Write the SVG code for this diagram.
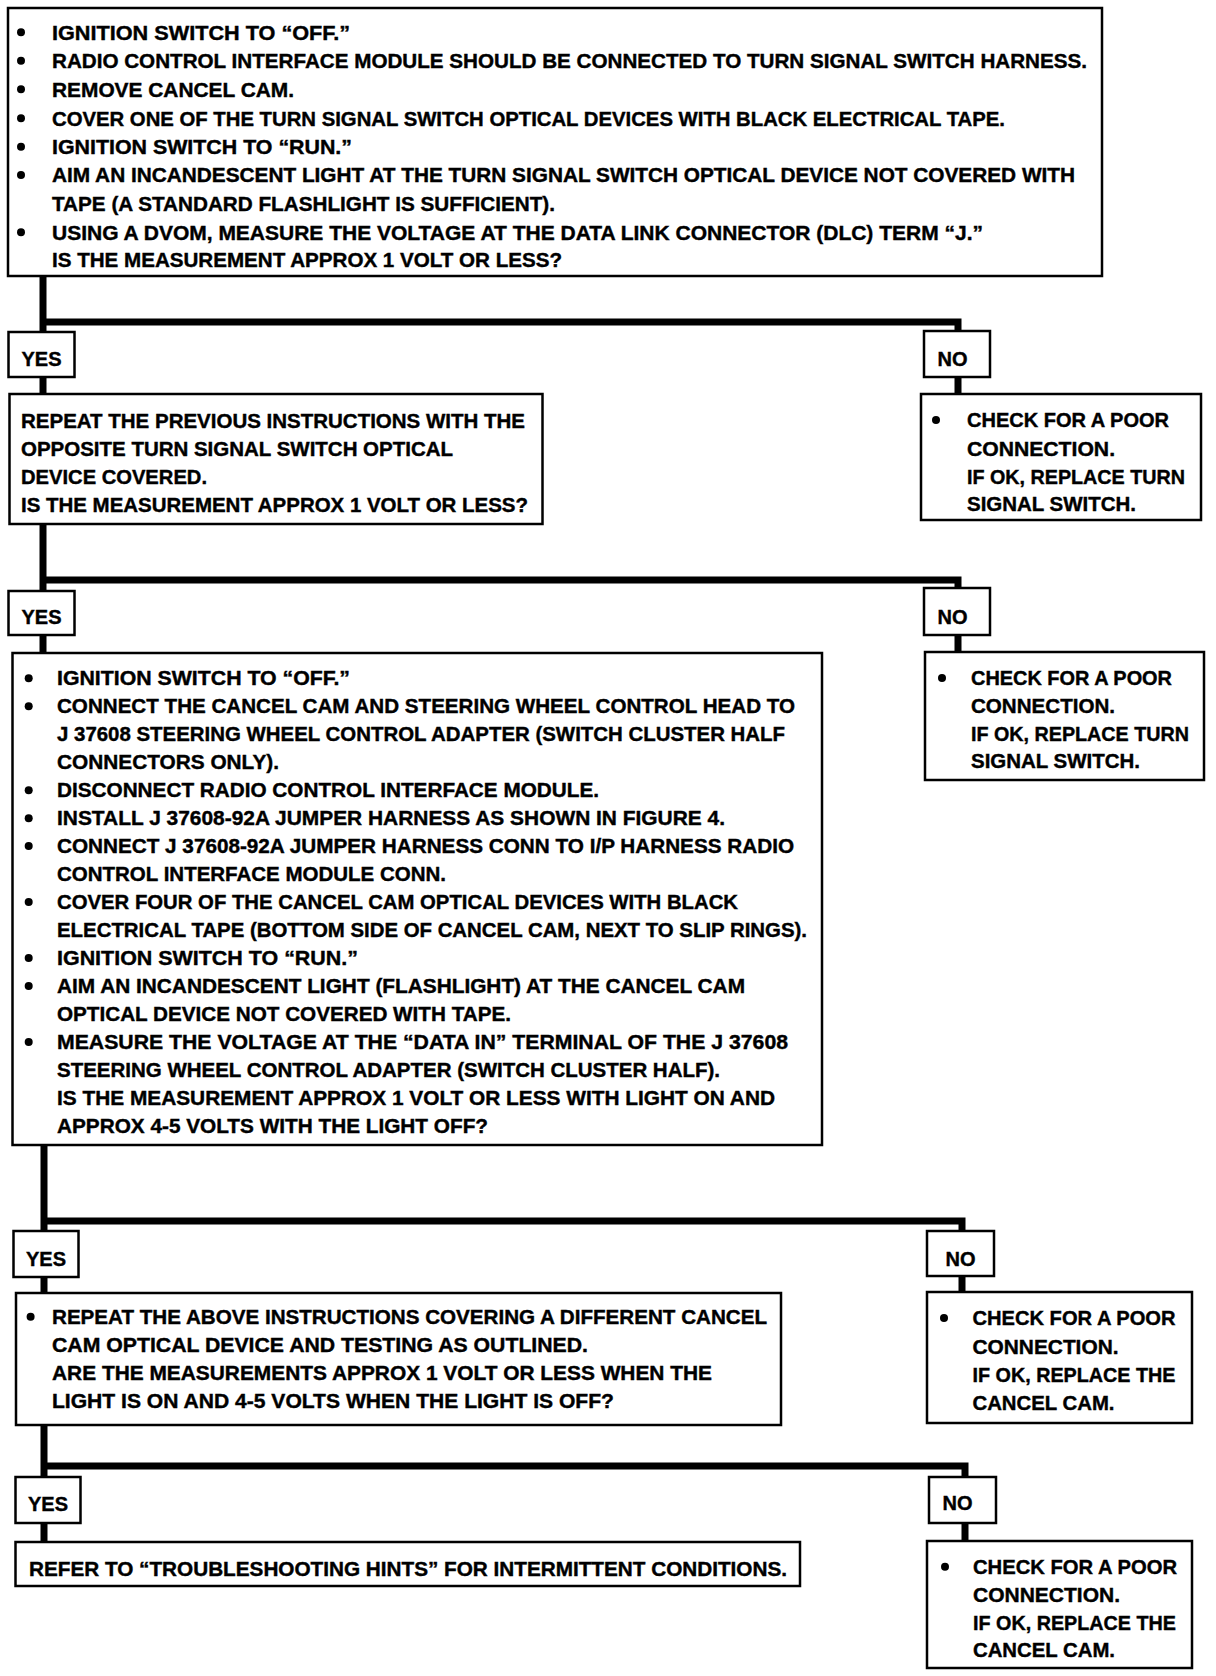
<svg xmlns="http://www.w3.org/2000/svg" width="1216" height="1676" viewBox="0 0 1216 1676">
<style>
.box{fill:#fff;stroke:#000;stroke-width:2.5}
.t{font-family:"Liberation Sans",Arial,sans-serif;font-weight:bold;font-size:20px;fill:#000;stroke:#000;stroke-width:0.4}
.c{text-anchor:middle}
.conn{fill:none;stroke:#000;stroke-width:7;stroke-linejoin:miter;stroke-linecap:butt}
.b{fill:#000}
</style>
<rect x="0" y="0" width="1216" height="1676" fill="#fff"/>
<g id="connectors" class="conn">
<path d="M43 276V332M43 322H958V331M43 377V394M958 377V394"/>
<path d="M43 524V591M43 580H958V588M43 635V653M958 635V652"/>
<path d="M44 1145V1231M44 1221H962V1231M44 1277V1293M962 1276V1292"/>
<path d="M44 1425V1477M44 1466H965V1477M44 1523V1542M965 1523V1541"/>
</g>
<g id="n1">
<rect class="box" x="8" y="8" width="1094" height="268"/>
<circle class="b" cx="21" cy="32.3" r="4"/><circle class="b" cx="21" cy="60.8" r="4"/><circle class="b" cx="21" cy="89.3" r="4"/><circle class="b" cx="21" cy="118.3" r="4"/><circle class="b" cx="21" cy="146.8" r="4"/><circle class="b" cx="21" cy="175" r="4"/><circle class="b" cx="21" cy="232.3" r="4"/>
<text class="t" x="52" y="39.5" textLength="298" lengthAdjust="spacingAndGlyphs">IGNITION SWITCH TO “OFF.”</text>
<text class="t" x="52" y="68" textLength="1035" lengthAdjust="spacingAndGlyphs">RADIO CONTROL INTERFACE MODULE SHOULD BE CONNECTED TO TURN SIGNAL SWITCH HARNESS.</text>
<text class="t" x="52" y="96.5" textLength="242" lengthAdjust="spacingAndGlyphs">REMOVE CANCEL CAM.</text>
<text class="t" x="52" y="125.5" textLength="953" lengthAdjust="spacingAndGlyphs">COVER ONE OF THE TURN SIGNAL SWITCH OPTICAL DEVICES WITH BLACK ELECTRICAL TAPE.</text>
<text class="t" x="52" y="154" textLength="300" lengthAdjust="spacingAndGlyphs">IGNITION SWITCH TO “RUN.”</text>
<text class="t" x="52" y="182" textLength="1023" lengthAdjust="spacingAndGlyphs">AIM AN INCANDESCENT LIGHT AT THE TURN SIGNAL SWITCH OPTICAL DEVICE NOT COVERED WITH</text>
<text class="t" x="52" y="211" textLength="503" lengthAdjust="spacingAndGlyphs">TAPE (A STANDARD FLASHLIGHT IS SUFFICIENT).</text>
<text class="t" x="52" y="239.5" textLength="931" lengthAdjust="spacingAndGlyphs">USING A DVOM, MEASURE THE VOLTAGE AT THE DATA LINK CONNECTOR (DLC) TERM “J.”</text>
<text class="t" x="52" y="267" textLength="510" lengthAdjust="spacingAndGlyphs">IS THE MEASUREMENT APPROX 1 VOLT OR LESS?</text>
</g>
<g id="n2"><rect class="box" x="8.5" y="332" width="66" height="45"/><text class="t c" x="41.5" y="366">YES</text></g>
<g id="n3">
<rect class="box" x="9.5" y="394" width="533" height="130"/>
<text class="t" x="21" y="428" textLength="504" lengthAdjust="spacingAndGlyphs">REPEAT THE PREVIOUS INSTRUCTIONS WITH THE</text>
<text class="t" x="21" y="456" textLength="432" lengthAdjust="spacingAndGlyphs">OPPOSITE TURN SIGNAL SWITCH OPTICAL</text>
<text class="t" x="21" y="484" textLength="186" lengthAdjust="spacingAndGlyphs">DEVICE COVERED.</text>
<text class="t" x="21" y="512" textLength="507" lengthAdjust="spacingAndGlyphs">IS THE MEASUREMENT APPROX 1 VOLT OR LESS?</text>
</g>
<g id="n4"><rect class="box" x="924" y="331" width="66" height="46"/><text class="t c" x="952.5" y="366">NO</text></g>
<g id="n5">
<rect class="box" x="921" y="394" width="280" height="126"/>
<circle class="b" cx="936" cy="420" r="4"/>
<text class="t" x="967" y="427" textLength="202" lengthAdjust="spacingAndGlyphs">CHECK FOR A POOR</text>
<text class="t" x="967" y="456" textLength="148" lengthAdjust="spacingAndGlyphs">CONNECTION.</text>
<text class="t" x="967" y="484" textLength="218" lengthAdjust="spacingAndGlyphs">IF OK, REPLACE TURN</text>
<text class="t" x="967" y="511" textLength="169" lengthAdjust="spacingAndGlyphs">SIGNAL SWITCH.</text>
</g>
<g id="n6"><rect class="box" x="8.5" y="591" width="66" height="44"/><text class="t c" x="41.5" y="624">YES</text></g>
<g id="n7"><rect class="box" x="924" y="588" width="66" height="47"/><text class="t c" x="952.5" y="624">NO</text></g>
<g id="n8">
<rect class="box" x="12.5" y="653" width="809.5" height="492"/>
<circle class="b" cx="28.7" cy="678.3" r="4"/><circle class="b" cx="28.7" cy="706.3" r="4"/><circle class="b" cx="28.7" cy="790.2" r="4"/><circle class="b" cx="28.7" cy="818.2" r="4"/><circle class="b" cx="28.7" cy="846.1" r="4"/><circle class="b" cx="28.7" cy="902.1" r="4"/><circle class="b" cx="28.7" cy="958" r="4"/><circle class="b" cx="28.7" cy="986" r="4"/><circle class="b" cx="28.7" cy="1041.9" r="4"/>
<text class="t" x="57" y="685" textLength="293" lengthAdjust="spacingAndGlyphs">IGNITION SWITCH TO “OFF.”</text>
<text class="t" x="57" y="713" textLength="738" lengthAdjust="spacingAndGlyphs">CONNECT THE CANCEL CAM AND STEERING WHEEL CONTROL HEAD TO</text>
<text class="t" x="57" y="741" textLength="728" lengthAdjust="spacingAndGlyphs">J 37608 STEERING WHEEL CONTROL ADAPTER (SWITCH CLUSTER HALF</text>
<text class="t" x="57" y="768.9" textLength="222" lengthAdjust="spacingAndGlyphs">CONNECTORS ONLY).</text>
<text class="t" x="57" y="796.9" textLength="542" lengthAdjust="spacingAndGlyphs">DISCONNECT RADIO CONTROL INTERFACE MODULE.</text>
<text class="t" x="57" y="824.9" textLength="668" lengthAdjust="spacingAndGlyphs">INSTALL J 37608-92A JUMPER HARNESS AS SHOWN IN FIGURE 4.</text>
<text class="t" x="57" y="852.8" textLength="737" lengthAdjust="spacingAndGlyphs">CONNECT J 37608-92A JUMPER HARNESS CONN TO I/P HARNESS RADIO</text>
<text class="t" x="57" y="880.8" textLength="389" lengthAdjust="spacingAndGlyphs">CONTROL INTERFACE MODULE CONN.</text>
<text class="t" x="57" y="908.8" textLength="681" lengthAdjust="spacingAndGlyphs">COVER FOUR OF THE CANCEL CAM OPTICAL DEVICES WITH BLACK</text>
<text class="t" x="57" y="936.7" textLength="750" lengthAdjust="spacingAndGlyphs">ELECTRICAL TAPE (BOTTOM SIDE OF CANCEL CAM, NEXT TO SLIP RINGS).</text>
<text class="t" x="57" y="964.7" textLength="301" lengthAdjust="spacingAndGlyphs">IGNITION SWITCH TO “RUN.”</text>
<text class="t" x="57" y="992.7" textLength="688" lengthAdjust="spacingAndGlyphs">AIM AN INCANDESCENT LIGHT (FLASHLIGHT) AT THE CANCEL CAM</text>
<text class="t" x="57" y="1020.6" textLength="454" lengthAdjust="spacingAndGlyphs">OPTICAL DEVICE NOT COVERED WITH TAPE.</text>
<text class="t" x="57" y="1048.6" textLength="731" lengthAdjust="spacingAndGlyphs">MEASURE THE VOLTAGE AT THE “DATA IN” TERMINAL OF THE J 37608</text>
<text class="t" x="57" y="1076.6" textLength="663" lengthAdjust="spacingAndGlyphs">STEERING WHEEL CONTROL ADAPTER (SWITCH CLUSTER HALF).</text>
<text class="t" x="57" y="1104.5" textLength="718" lengthAdjust="spacingAndGlyphs">IS THE MEASUREMENT APPROX 1 VOLT OR LESS WITH LIGHT ON AND</text>
<text class="t" x="57" y="1132.5" textLength="431" lengthAdjust="spacingAndGlyphs">APPROX 4-5 VOLTS WITH THE LIGHT OFF?</text>
</g>
<g id="n9">
<rect class="box" x="925" y="652" width="279" height="128"/>
<circle class="b" cx="942" cy="678" r="4"/>
<text class="t" x="971" y="685" textLength="201" lengthAdjust="spacingAndGlyphs">CHECK FOR A POOR</text>
<text class="t" x="971" y="713" textLength="144" lengthAdjust="spacingAndGlyphs">CONNECTION.</text>
<text class="t" x="971" y="741" textLength="218" lengthAdjust="spacingAndGlyphs">IF OK, REPLACE TURN</text>
<text class="t" x="971" y="768" textLength="169" lengthAdjust="spacingAndGlyphs">SIGNAL SWITCH.</text>
</g>
<g id="n10"><rect class="box" x="13.5" y="1231" width="65" height="46"/><text class="t c" x="46" y="1265.5">YES</text></g>
<g id="n11"><rect class="box" x="927" y="1231" width="67" height="45"/><text class="t c" x="960.5" y="1265.5">NO</text></g>
<g id="n12">
<rect class="box" x="16" y="1293" width="765" height="132"/>
<circle class="b" cx="30.6" cy="1316.7" r="4"/>
<text class="t" x="52" y="1324" textLength="715" lengthAdjust="spacingAndGlyphs">REPEAT THE ABOVE INSTRUCTIONS COVERING A DIFFERENT CANCEL</text>
<text class="t" x="52" y="1351.5" textLength="536" lengthAdjust="spacingAndGlyphs">CAM OPTICAL DEVICE AND TESTING AS OUTLINED.</text>
<text class="t" x="52" y="1380" textLength="660" lengthAdjust="spacingAndGlyphs">ARE THE MEASUREMENTS APPROX 1 VOLT OR LESS WHEN THE</text>
<text class="t" x="52" y="1408" textLength="562" lengthAdjust="spacingAndGlyphs">LIGHT IS ON AND 4-5 VOLTS WHEN THE LIGHT IS OFF?</text>
</g>
<g id="n13">
<rect class="box" x="927" y="1292" width="265" height="131"/>
<circle class="b" cx="944" cy="1318" r="4"/>
<text class="t" x="972.5" y="1325" textLength="203" lengthAdjust="spacingAndGlyphs">CHECK FOR A POOR</text>
<text class="t" x="972.5" y="1353.5" textLength="146" lengthAdjust="spacingAndGlyphs">CONNECTION.</text>
<text class="t" x="972.5" y="1382" textLength="203" lengthAdjust="spacingAndGlyphs">IF OK, REPLACE THE</text>
<text class="t" x="972.5" y="1410" textLength="142" lengthAdjust="spacingAndGlyphs">CANCEL CAM.</text>
</g>
<g id="n14"><rect class="box" x="15.5" y="1477" width="65" height="46"/><text class="t c" x="48" y="1511">YES</text></g>
<g id="n15"><rect class="box" x="929" y="1477" width="67" height="46"/><text class="t c" x="957.5" y="1510">NO</text></g>
<g id="n16">
<rect class="box" x="15.5" y="1542" width="784.5" height="44"/>
<text class="t" x="29" y="1575.5" textLength="758" lengthAdjust="spacingAndGlyphs">REFER TO “TROUBLESHOOTING HINTS” FOR INTERMITTENT CONDITIONS.</text>
</g>
<g id="n17">
<rect class="box" x="927" y="1541" width="265" height="127"/>
<circle class="b" cx="945" cy="1566.7" r="4"/>
<text class="t" x="973" y="1574" textLength="204" lengthAdjust="spacingAndGlyphs">CHECK FOR A POOR</text>
<text class="t" x="973" y="1602" textLength="147" lengthAdjust="spacingAndGlyphs">CONNECTION.</text>
<text class="t" x="973" y="1630" textLength="203" lengthAdjust="spacingAndGlyphs">IF OK, REPLACE THE</text>
<text class="t" x="973" y="1657" textLength="142" lengthAdjust="spacingAndGlyphs">CANCEL CAM.</text>
</g>
</svg>
